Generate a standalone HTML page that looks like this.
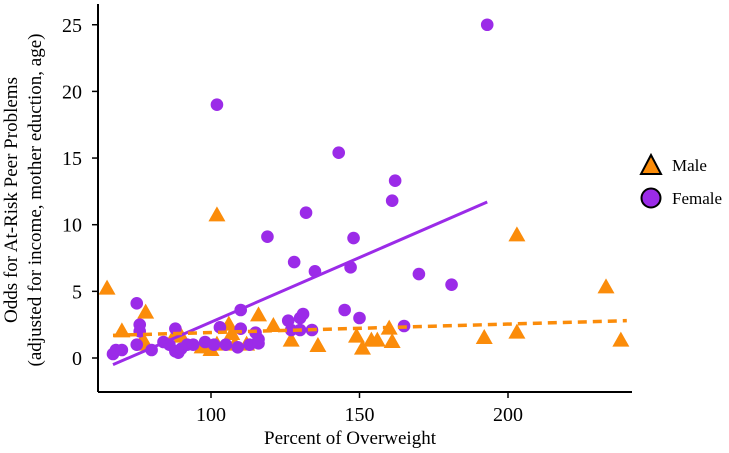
<!DOCTYPE html>
<html><head><meta charset="utf-8"><style>
body{margin:0;background:#fff}
svg{display:block;font-family:"Liberation Serif",serif}
</style></head><body>
<svg id="chart" width="729" height="453">
<g id="marks"></g>
<line x1="98" y1="4" x2="98" y2="392" stroke="#000" stroke-width="2"/>
<line x1="98" y1="392" x2="632" y2="392" stroke="#000" stroke-width="2"/>
<g id="ticks"></g>
<text x="350" y="444" font-size="19" text-anchor="middle">Percent of Overweight</text>
<text transform="translate(17,200) rotate(-90)" font-size="19" text-anchor="middle">Odds for At-Risk Peer Problems</text>
<text transform="translate(41,200) rotate(-90)" font-size="19" text-anchor="middle">(adjusted for income, mother eduction, age)</text>
<g>
<g>
<polygon points="651,155 641,174 661,174" fill="#FB8C0A" stroke="#000" stroke-width="2"/>
<text x="672" y="171" font-size="17">Male</text></g>
<g>
<circle cx="651" cy="198" r="9.5" fill="#9B2BE8" stroke="#000" stroke-width="2"/>
<text x="672" y="204" font-size="17">Female</text></g>
</g>
</svg>
<script>
const xTicks=[100,150,200];
const yTicks=[0,5,10,15,20,25];
const femaleX=[193,102,143,132,119,148,161,162,128,135,147,170,181,145,150,165,130,131,126,127,130,134,67,68,70,75,75,76,76,80,84,86,88,88,89,90,92,94,98,101,103,105,110,110,109,113,115,116,116];
const femaleY=[25,19,15.4,10.9,9.1,9.0,11.8,13.3,7.2,6.5,6.8,6.3,5.5,3.6,3.0,2.4,3.0,3.3,2.8,2.1,2.1,2.1,0.3,0.6,0.6,1.0,4.1,2.5,2.0,0.6,1.2,1.0,2.2,0.5,0.4,0.7,1.0,1.0,1.2,1.0,2.3,1.0,3.6,2.2,0.8,1.0,1.9,1.4,1.1];
const maleX=[65,70,78,78,77,88,90,97,100,102,102,106,107,108,112,116,121,127,136,149,151,154,156,160,161,192,203,203,233,238];
const maleY=[5.2,2.0,3.4,1.0,1.3,1.8,1.6,0.8,0.6,1.0,10.7,2.5,1.8,1.0,1.0,3.2,2.4,1.3,0.9,1.6,0.7,1.3,1.3,2.2,1.2,1.5,1.9,9.2,5.3,1.3];
const femaleFit=[[67,-0.5],[193,11.7]];
const maleFit=[[67,1.7],[240,2.8]];
const NS="http://www.w3.org/2000/svg";
const sx=v=>211+(v-100)*2.97;
const sy=v=>358-13.33*v;
const marks=document.getElementById('marks'),ticks=document.getElementById('ticks');
function mk(t,a,p){const e=document.createElementNS(NS,t);for(const k in a)e.setAttribute(k,a[k]);p.appendChild(e);return e;}
xTicks.forEach(v=>{
 const l=mk('line',{x1:sx(v),x2:sx(v),y1:392,y2:398,stroke:'#000','stroke-width':1.5},ticks);
 
 
 const t=mk('text',{x:sx(v),y:421,'font-size':20,'text-anchor':'middle'},ticks);t.textContent=v;
 
 
});
yTicks.forEach(v=>{
 const l=mk('line',{x1:92,x2:98,y1:sy(v),y2:sy(v),stroke:'#000','stroke-width':1.5},ticks);
 
 
 const t=mk('text',{x:82,y:sy(v)+7,'font-size':20,'text-anchor':'end'},ticks);t.textContent=v;
 
 
});
maleX.forEach((x,i)=>{
 const cx=sx(x),cy=sy(maleY[i]);
 const p=mk('polygon',{points:`${cx},${cy-9} ${cx-8.5},${cy+6} ${cx+8.5},${cy+6}`,fill:'#FB8C0A'},marks);
 
 
});
femaleX.forEach((x,i)=>{
 const c=mk('circle',{cx:sx(x),cy:sy(femaleY[i]),r:6.3,fill:'#9B2BE8'},marks);
 
 
});
const fl=mk('line',{x1:sx(femaleFit[0][0]),y1:sy(femaleFit[0][1]),x2:sx(femaleFit[1][0]),y2:sy(femaleFit[1][1]),stroke:'#9B2BE8','stroke-width':3},marks);


const ml=mk('line',{x1:sx(maleFit[0][0]),y1:sy(maleFit[0][1]),x2:sx(maleFit[1][0]),y2:sy(maleFit[1][1]),stroke:'#FB8C0A','stroke-width':3.5,'stroke-dasharray':'9,6'},marks);


</script>
</body></html>
